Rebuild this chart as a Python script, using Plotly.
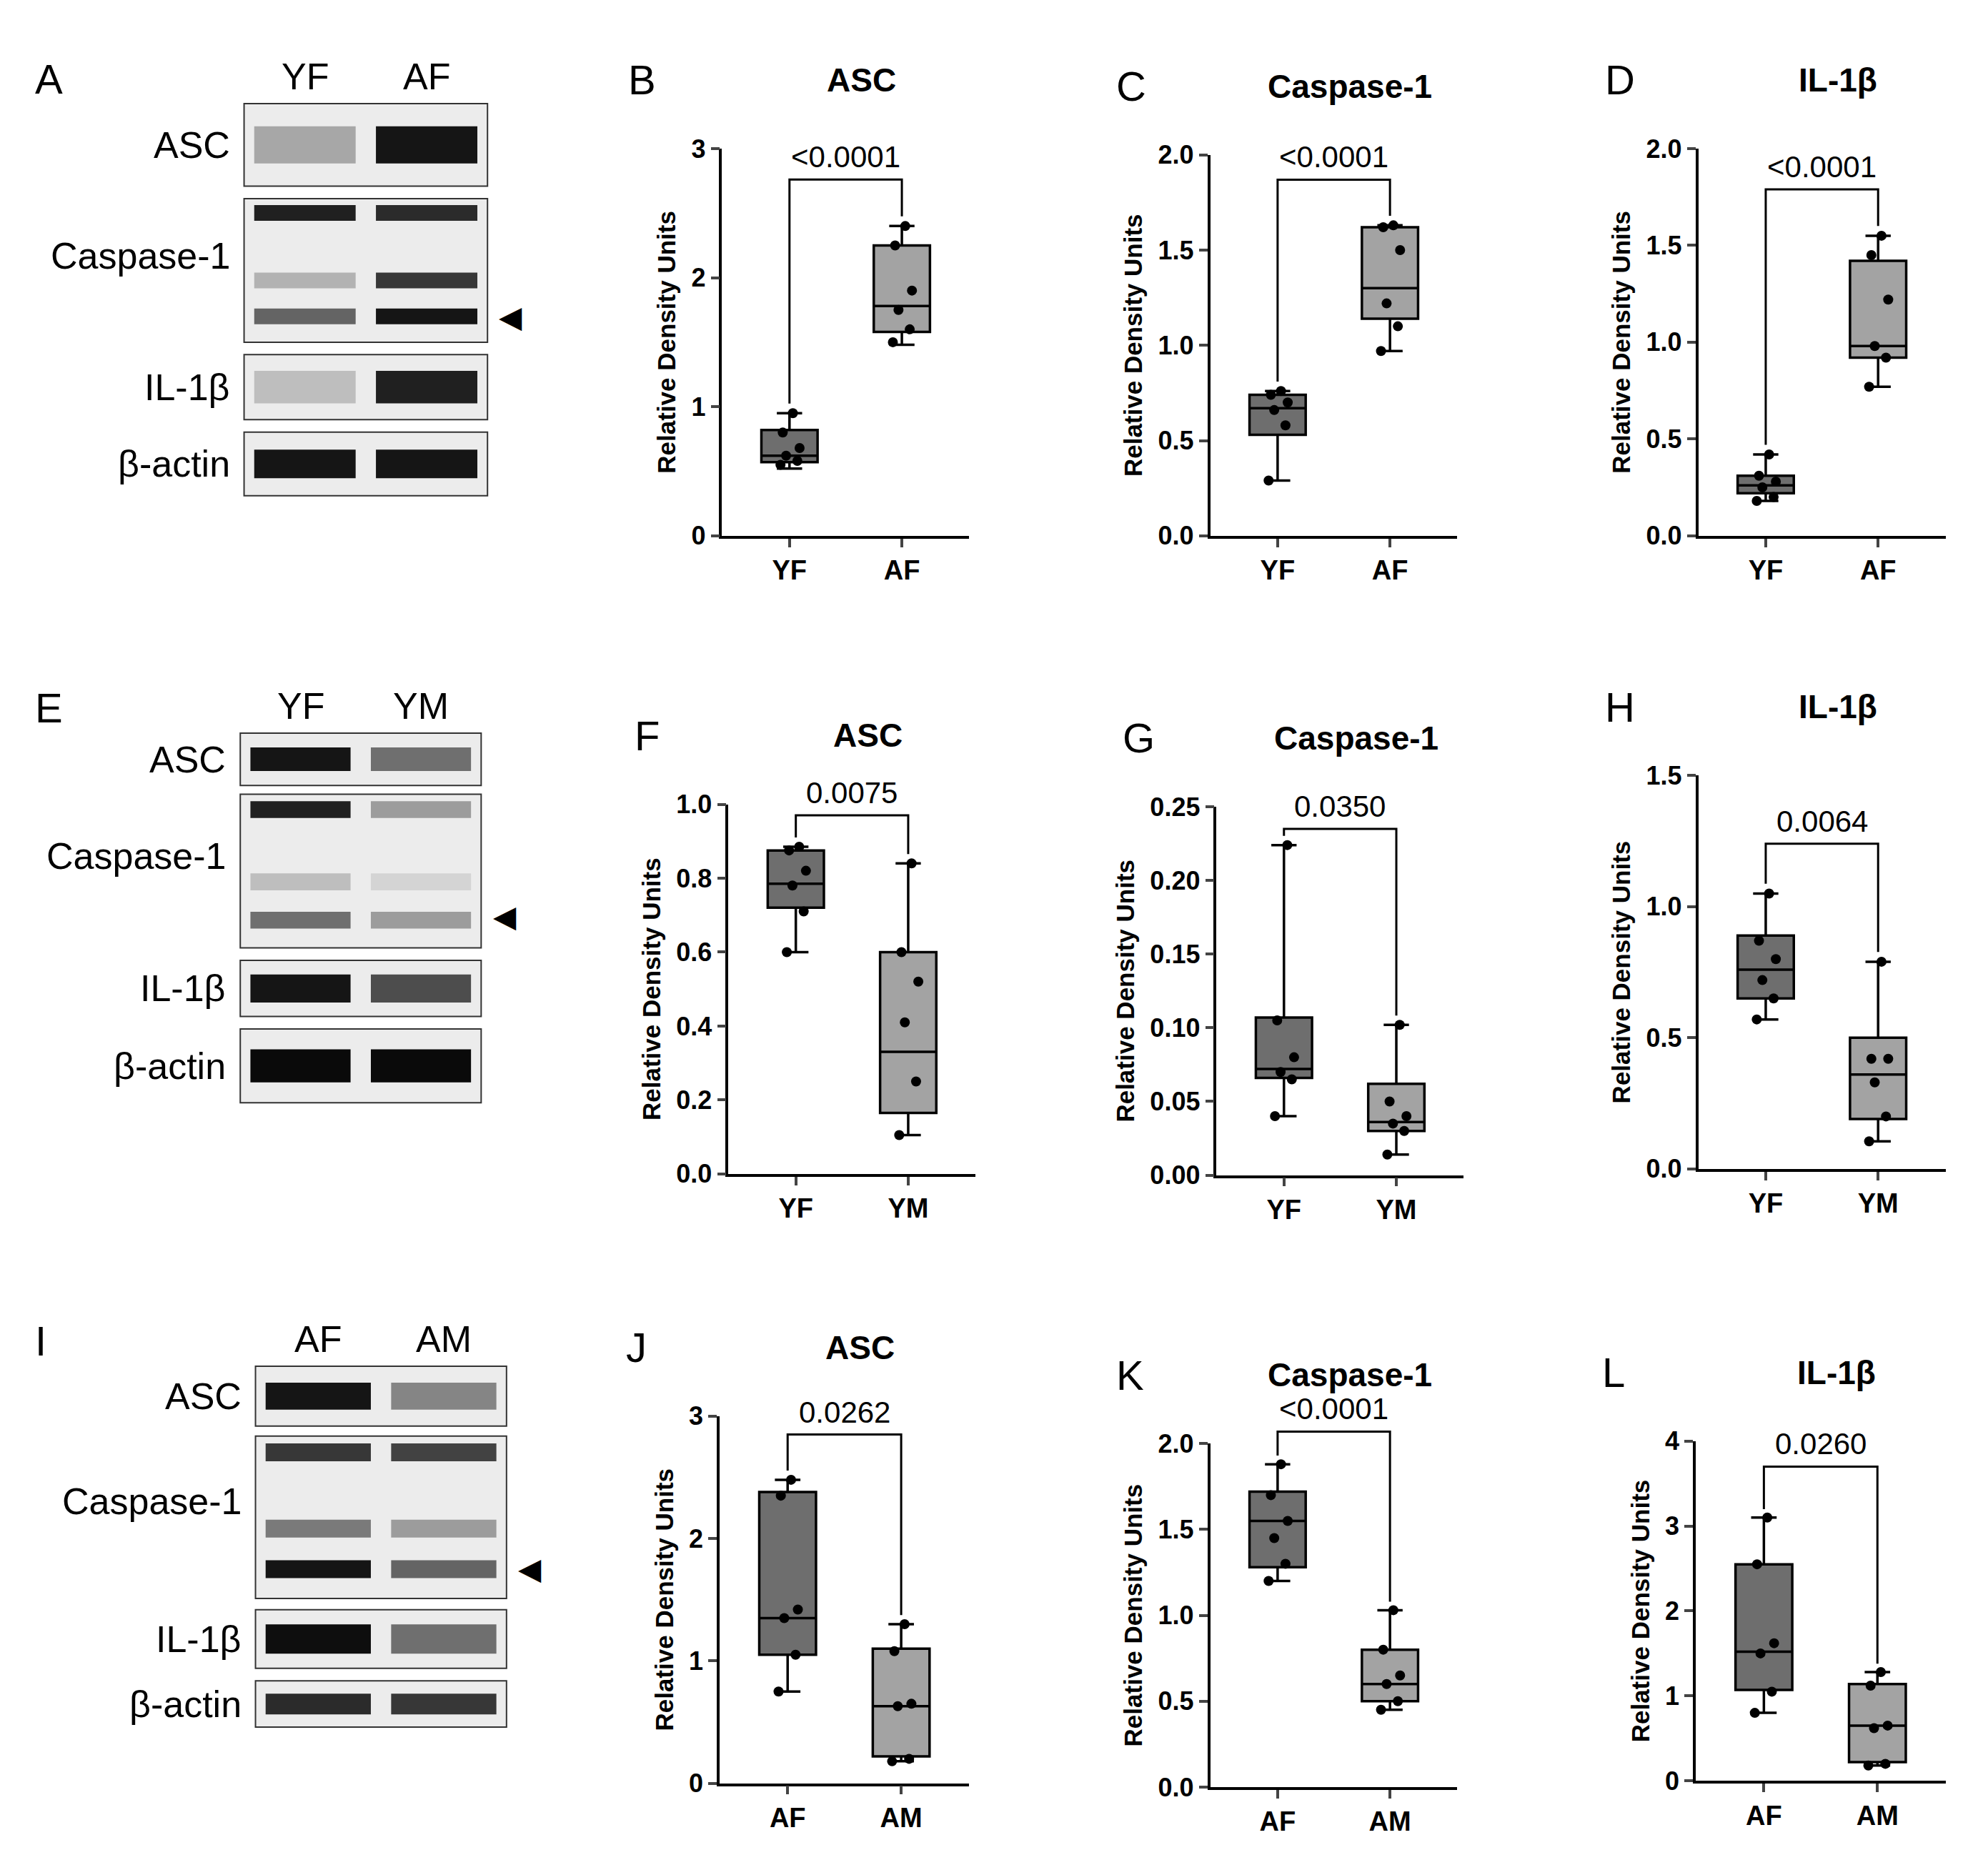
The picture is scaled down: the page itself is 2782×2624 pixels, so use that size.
import plotly.graph_objects as go

W, H = 2782, 2624
def X(p): return p/1568
def Y(p): return 1-p/1478

# ---------------- data ----------------
panels = ["B","C","D","F","G","H","J","K","L"]
titles = ["ASC","Caspase-1","IL-1β"]*3
groups = [["YF","AF"]]*3 + [["YF","YM"]]*3 + [["AF","AM"]]*3
pvals = ["<0.0001","<0.0001","<0.0001","0.0075","0.0350","0.0064","0.0262","<0.0001","0.0260"]
bracket_y = [2.76,1.87,1.79,0.97,0.235,1.24,2.85,2.07,3.7]
yranges = [3,2,2,1,0.25,1.5,3,2,4]
dticks = [1,0.5,0.5,0.2,0.05,0.5,1,0.5,1]
tickfmt = ["d",".1f",".1f",".1f",".2f",".1f","d",".1f","d"]
# stats: [min, q1, median, q3, max] per group
stats = [
 [[.52,.57,.62,.82,.95],[1.48,1.58,1.78,2.25,2.4]],
 [[.29,.53,.67,.74,.76],[.97,1.14,1.3,1.62,1.63]],
 [[.18,.22,.26,.31,.42],[.77,.92,.98,1.42,1.55]],
 [[.6,.72,.785,.875,.885],[.105,.165,.33,.6,.84]],
 [[.04,.066,.072,.107,.224],[.014,.03,.036,.062,.102]],
 [[.57,.65,.76,.89,1.05],[.105,.19,.36,.5,.79]],
 [[.75,1.05,1.35,2.38,2.48],[.18,.22,.63,1.1,1.3]],
 [[1.2,1.28,1.55,1.72,1.88],[.45,.5,.6,.8,1.03]],
 [[.8,1.07,1.52,2.55,3.1],[.18,.22,.65,1.14,1.28]],
]
points = [
 [[.55,.58,.62,.68,.8,.95],[1.5,1.6,1.75,1.9,2.25,2.4]],
 [[.29,.58,.66,.7,.74,.76],[.97,1.1,1.22,1.5,1.62,1.63]],
 [[.18,.2,.25,.28,.31,.42],[.77,.92,.98,1.22,1.45,1.55]],
 [[.6,.71,.78,.82,.875,.885],[.105,.25,.41,.52,.6,.84]],
 [[.04,.065,.07,.08,.105,.224],[.014,.03,.035,.04,.05,.102]],
 [[.57,.65,.72,.8,.87,1.05],[.105,.2,.33,.42,.42,.79]],
 [[.75,1.05,1.35,1.42,2.35,2.48],[.18,.2,.63,.65,1.08,1.3]],
 [[1.2,1.3,1.45,1.55,1.7,1.88],[.45,.5,.6,.65,.8,1.03]],
 [[.8,1.05,1.5,1.62,2.55,3.1],[.18,.2,.62,.65,1.12,1.28]],
]
jit = [-0.08,0.07,-0.03,0.09,-0.06,0.03]

blot_letters = ["A","E","I"]
blot_lanes = [["YF","AF"],["YF","YM"],["AF","AM"]]
row_names = ["ASC","Caspase-1","IL-1β","β-actin"]
blot_bands = [
 {"ASC":[[.3,.95]],"Caspase-1":[[.9,.85],[.25,.8],[.6,.95]],"IL-1β":[[.2,.9]],"β-actin":[[.95,.95]]},
 {"ASC":[[.95,.55]],"Caspase-1":[[.9,.35],[.2,.1],[.55,.35]],"IL-1β":[[.95,.7]],"β-actin":[[1,1]]},
 {"ASC":[[.95,.45]],"Caspase-1":[[.8,.75],[.5,.35],[.95,.6]],"IL-1β":[[.98,.55]],"β-actin":[[.85,.8]]},
]

# ---------------- layout geometry (display px) ----------------
axes_geo = [
 (565,760,103,413),(950,1145,108,413),(1335,1530,103,413),
 (570,765,628,924),(955,1150,630,925),(1335,1530,605,920),
 (563,760,1118,1412),(950,1145,1140,1415),(1333,1530,1138,1410),
]
blot_geo = [
 (188,380,[(67,133),(143,258),(268,320),(330,381)],67,238),
 (185,375,[(571,613),(620,743),(753,798),(808,867)],571,718),
 (197,395,[(1078,1126),(1134,1264),(1273,1320),(1330,1367)],1078,1240),
]
XR = (-0.6, 1.6)

fig = go.Figure()
lay = dict(width=W, height=H, margin=dict(l=0,r=0,t=0,b=0), plot_bgcolor="white",
           paper_bgcolor="white", showlegend=False, font=dict(family="Liberation Sans", color="black"))
ann, shapes = [], []
fs = 38
for i in range(9):
    n = "" if i == 0 else str(i+1)
    xa, ya = "x"+n, "y"+n
    x0,x1,y0,y1 = axes_geo[i]
    lay["xaxis"+n] = dict(domain=[X(x0),X(x1)], range=list(XR), tickvals=[0,1],
        ticktext=["<b>%s</b>" % g for g in groups[i]],
        showline=True, linecolor="black", linewidth=3.5, ticks="outside", ticklen=12, tickwidth=3.5,
        tickfont=dict(size=fs), anchor=ya, showgrid=False, zeroline=False)
    lay["yaxis"+n] = dict(domain=[Y(y1),Y(y0)], range=[0,yranges[i]], dtick=dticks[i], tickformat=tickfmt[i],
        showline=True, linecolor="black", linewidth=3.5, ticks="outside", ticklen=12, tickwidth=3.5,
        tickfont=dict(size=fs-2, weight="bold"), anchor=xa, showgrid=False, zeroline=False,
        title=dict(text="<b>Relative Density Units</b>", font=dict(size=35), standoff=12))
    for g in range(2):
        s = stats[i][g]
        fig.add_trace(go.Box(x=[g], lowerfence=[s[0]], q1=[s[1]], median=[s[2]], q3=[s[3]], upperfence=[s[4]],
            fillcolor="#6e6e6e" if g == 0 else "#a3a3a3", line=dict(color="black", width=3.5),
            width=0.5, whiskerwidth=0.45, xaxis=xa, yaxis=ya, hoverinfo="skip"))
        fig.add_trace(go.Scatter(x=[g+j for j in jit], y=points[i][g], mode="markers",
            marker=dict(color="black", size=14), xaxis=xa, yaxis=ya))
    def py(v): return Y(y1) + v/yranges[i]*(Y(y0)-Y(y1))
    def px(v): return X(x0) + (v-XR[0])/(XR[1]-XR[0])*(X(x1)-X(x0))
    by = bracket_y[i]
    gap = yranges[i]*0.025
    shapes.append(dict(type="path", xref="paper", yref="paper",
        path=f"M {px(0)} {py(stats[i][0][4]+gap)} L {px(0)} {py(by)} L {px(1)} {py(by)} L {px(1)} {py(stats[i][1][4]+gap)}",
        line=dict(color="black", width=3)))
    ann.append(dict(x=px(0.5), y=py(by), xref="paper", yref="paper", text=pvals[i], showarrow=False,
        xanchor="center", yanchor="bottom", yshift=6, font=dict(size=42)))
    ann.append(dict(x=(X(x0)+X(x1))/2+0.008, y=Y(y0-55), xref="paper", yref="paper", text="<b>"+titles[i]+"</b>",
        showarrow=False, font=dict(size=46), xanchor="center", yanchor="middle"))
    ann.append(dict(x=X(x0-75), y=Y(y0-55), xref="paper", yref="paper", text=panels[i], showarrow=False,
        font=dict(size=58), xanchor="left", yanchor="middle"))

band_frac = {"ASC":[0.5],"Caspase-1":[0.1,0.57,0.82],"IL-1β":[0.5],"β-actin":[0.5]}
band_h = {"ASC":0.45,"Caspase-1":0.11,"IL-1β":0.5,"β-actin":0.45}
for b in range(3):
    bx0,bx1,rows,ly,ay = blot_geo[b]
    lanew = (bx1-bx0)/2
    for li,lab in enumerate(blot_lanes[b]):
        ann.append(dict(x=X(bx0+lanew*(li+0.5)), y=Y(ly-4), xref="paper", yref="paper", text=lab,
            showarrow=False, xanchor="center", yanchor="bottom", font=dict(size=52)))
    ann.append(dict(x=X(22), y=Y(ly-20), xref="paper", yref="paper", text=blot_letters[b], showarrow=False,
        font=dict(size=58), xanchor="left", yanchor="middle"))
    for r,(ry0,ry1) in enumerate(rows):
        name = row_names[r]
        shapes.append(dict(type="rect", xref="paper", yref="paper", x0=X(bx0), x1=X(bx1), y0=Y(ry1), y1=Y(ry0),
            fillcolor="#ececec", line=dict(color="#333", width=2), layer="below"))
        for k,fr in enumerate(band_frac[name]):
            cy = ry0 + fr*(ry1-ry0); hh = band_h[name]*(ry1-ry0)/2
            for li in range(2):
                d = blot_bands[b][name][k][li]
                c = int(235 - 225*d)
                shapes.append(dict(type="rect", xref="paper", yref="paper",
                    x0=X(bx0+lanew*li+8), x1=X(bx0+lanew*(li+1)-8), y0=Y(cy+hh), y1=Y(cy-hh),
                    fillcolor=f"rgb({c},{c},{c})", line=dict(width=0), layer="below"))
        ann.append(dict(x=X(bx0-10), y=Y((ry0+ry1)/2 if name!="Caspase-1" else ry0+0.4*(ry1-ry0)),
            xref="paper", yref="paper", text=name, showarrow=False, xanchor="right", yanchor="middle",
            font=dict(size=52)))
    ann.append(dict(x=X(bx1+8), y=Y(ay), xref="paper", yref="paper", text="◀", showarrow=False,
        xanchor="left", yanchor="middle", font=dict(size=42, family="DejaVu Sans")))

lay["annotations"] = ann
lay["shapes"] = shapes
fig.update_layout(**lay)
fig.write_html("out.html")
